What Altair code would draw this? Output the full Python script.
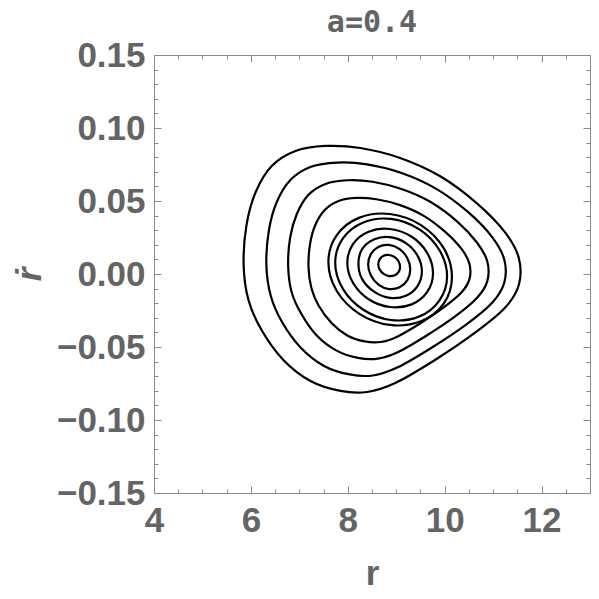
import altair as alt
import pandas as pd

# ---- data: closed invariant curves (r, r-dot) ----
C1_r = [5.85, 5.91, 6.10, 6.43, 6.92, 7.54, 8.26, 9.08, 9.90, 10.66, 11.24, 11.53,
        11.53, 11.24, 10.62, 9.80, 8.98, 8.40, 7.85, 7.23, 6.67, 6.22, 5.95]
C1_rd = [0.0062, 0.0336, 0.0562, 0.0740, 0.0843, 0.0877, 0.0863, 0.0795, 0.0671, 0.0486, 0.0288, 0.0110,
         -0.0075, -0.0233, -0.0404, -0.0589, -0.0747, -0.0808, -0.0801, -0.0733, -0.0589, -0.0384, -0.0178]

C2_r = [6.32, 6.37, 6.53, 6.82, 7.24, 7.78, 8.40, 9.11, 9.82, 10.48, 10.98, 11.23,
        11.23, 10.98, 10.45, 9.73, 9.02, 8.52, 8.04, 7.51, 7.03, 6.64, 6.41]
C2_rd = [0.0058, 0.0295, 0.0490, 0.0645, 0.0734, 0.0763, 0.0751, 0.0692, 0.0585, 0.0425, 0.0253, 0.0099,
         -0.0060, -0.0197, -0.0345, -0.0505, -0.0641, -0.0695, -0.0688, -0.0630, -0.0505, -0.0327, -0.0149]

C3_r = [6.77, 6.81, 6.95, 7.19, 7.54, 7.99, 8.51, 9.11, 9.71, 10.26, 10.67, 10.88,
        10.88, 10.67, 10.23, 9.63, 9.03, 8.62, 8.21, 7.77, 7.36, 7.04, 6.84]
C3_rd = [0.0051, 0.0249, 0.0413, 0.0543, 0.0617, 0.0642, 0.0632, 0.0582, 0.0493, 0.0359, 0.0214, 0.0086,
         -0.0049, -0.0163, -0.0287, -0.0421, -0.0536, -0.0580, -0.0575, -0.0525, -0.0421, -0.0272, -0.0123]

C4_r = [7.19, 7.22, 7.33, 7.53, 7.81, 8.17, 8.59, 9.08, 9.56, 10.00, 10.34, 10.51,
        10.51, 10.34, 9.98, 9.50, 9.02, 8.68, 8.35, 7.99, 7.67, 7.40, 7.25]
C4_rd = [0.0043, 0.0203, 0.0336, 0.0440, 0.0500, 0.0521, 0.0512, 0.0472, 0.0400, 0.0292, 0.0175, 0.0071,
         -0.0037, -0.0129, -0.0229, -0.0337, -0.0429, -0.0466, -0.0462, -0.0421, -0.0337, -0.0217, -0.0097]

C5_r = [10.15, 9.98, 9.51, 8.87, 8.24, 7.77, 7.60, 7.77, 8.24, 8.87, 9.51, 9.98]
C5_rd = [-0.0020, 0.0177, 0.0335, 0.0411, 0.0386, 0.0265, 0.0082, -0.0115, -0.0273, -0.0349, -0.0324, -0.0203]

C6_r = [10.05, 9.89, 9.47, 8.89, 8.32, 7.90, 7.74, 7.90, 8.32, 8.89, 9.47, 9.89]
C6_rd = [-0.0015, 0.0164, 0.0307, 0.0377, 0.0353, 0.0244, 0.0077, -0.0102, -0.0245, -0.0315, -0.0292, -0.0182]

C7_r = [9.76, 9.64, 9.32, 8.87, 8.43, 8.11, 7.99, 8.11, 8.43, 8.87, 9.32, 9.64]
C7_rd = [0.0005, 0.0144, 0.0255, 0.0308, 0.0290, 0.0206, 0.0077, -0.0062, -0.0173, -0.0226, -0.0208, -0.0123]

C8_r = [9.53, 9.44, 9.20, 8.87, 8.55, 8.30, 8.22, 8.30, 8.55, 8.87, 9.20, 9.44]
C8_rd = [0.0018, 0.0126, 0.0212, 0.0253, 0.0238, 0.0172, 0.0071, -0.0037, -0.0123, -0.0164, -0.0149, -0.0083]

C9_r = [9.29, 9.23, 9.07, 8.85, 8.64, 8.48, 8.42, 8.48, 8.64, 8.85, 9.07, 9.23]
C9_rd = [0.0031, 0.0108, 0.0170, 0.0199, 0.0187, 0.0138, 0.0065, -0.0012, -0.0074, -0.0103, -0.0091, -0.0042]

C10_r = [9.08, 9.05, 8.97, 8.85, 8.74, 8.66, 8.63, 8.66, 8.74, 8.85, 8.97, 9.05]
C10_rd = [0.0049, 0.0086, 0.0116, 0.0130, 0.0125, 0.0102, 0.0067, 0.0030, 0.0001, -0.0014, -0.0009, 0.0014]

X_MAJOR = [4, 6, 8, 10, 12]
X_MINOR = [4.5, 5, 5.5, 6.5, 7, 7.5, 8.5, 9, 9.5, 10.5, 11, 11.5, 12.5]
Y_MAJOR = [-0.15, -0.10, -0.05, 0.0, 0.05, 0.10, 0.15]
Y_MINOR = [-0.14, -0.13, -0.12, -0.11, -0.09, -0.08, -0.07, -0.06, -0.04, -0.03, -0.02, -0.01,
           0.01, 0.02, 0.03, 0.04, 0.06, 0.07, 0.08, 0.09, 0.11, 0.12, 0.13, 0.14]

TITLE = "a=0.4"
X_TITLE = "r"
Y_TITLE = "ṙ"

curves = [C1_r, C2_r, C3_r, C4_r, C5_r, C6_r, C7_r, C8_r, C9_r, C10_r]
curves_rd = [C1_rd, C2_rd, C3_rd, C4_rd, C5_rd, C6_rd, C7_rd, C8_rd, C9_rd, C10_rd]
rows = []
for ci, (rs, rds) in enumerate(zip(curves, curves_rd)):
    for i, (a, b) in enumerate(zip(rs, rds)):
        rows.append({"curve": ci, "idx": i, "r": a, "rd": b})
df = pd.DataFrame(rows)

GRAY = "#646464"
TICK = "#8a8a8a"
FONT = "Liberation Sans"
FS = 35

xs = alt.Scale(domain=[4, 13], nice=False, zero=False)
ys = alt.Scale(domain=[-0.15, 0.15], nice=False, zero=False)


def ax(orient, values, size, labels=False, title="", fmt=None, **kw):
    d = dict(orient=orient, values=values, tickSize=size, offset=-size, domain=False,
             grid=False, labels=labels, title=title, tickColor=TICK, tickWidth=1)
    if labels:
        d.update(labelFont=FONT, labelFontSize=FS, labelFontWeight="bold", labelColor=GRAY,
                 labelFlush=False, labelOverlap=False, format=fmt)
    d.update(kw)
    return alt.Axis(**d)


lines = alt.Chart(df).mark_line(color="black", strokeWidth=2.2, interpolate="cardinal-closed").encode(
    x=alt.X("r:Q", scale=xs, axis=ax("bottom", X_MAJOR, 7, True, X_TITLE, "d",
                                        labelPadding=10, titleFont=FONT, titleFontSize=FS,
                                        titleFontWeight="bold", titleColor=GRAY, titlePadding=18)),
    y=alt.Y("rd:Q", scale=ys, axis=ax("left", Y_MAJOR, 7, True, Y_TITLE, ".2f",
                                         labelPadding=9, titleFont=FONT, titleFontSize=FS,
                                         titleFontWeight="bold", titleFontStyle="italic",
                                         titleColor=GRAY, titlePadding=9)),
    detail="curve:N",
    order="idx:Q",
)

layer2 = alt.Chart(df).mark_point(opacity=0).encode(
    x=alt.X("r:Q", scale=xs, axis=ax("bottom", X_MINOR, 4)),
    y=alt.Y("rd:Q", scale=ys, axis=ax("left", Y_MINOR, 4)),
)
layer3 = alt.Chart(df).mark_point(opacity=0).encode(
    x=alt.X("r:Q", scale=xs, axis=ax("top", X_MAJOR, 7)),
    y=alt.Y("rd:Q", scale=ys, axis=ax("right", Y_MAJOR, 7)),
)
layer4 = alt.Chart(df).mark_point(opacity=0).encode(
    x=alt.X("r:Q", scale=xs, axis=ax("top", X_MINOR, 4)),
    y=alt.Y("rd:Q", scale=ys, axis=ax("right", Y_MINOR, 4)),
)

chart = alt.layer(lines, layer2, layer3, layer4).resolve_axis(
    x="independent", y="independent"
).properties(
    width=436,
    height=438,
    autosize=alt.AutoSizeParams(type="none"),
    padding={"left": 146, "top": 47, "right": 1, "bottom": 98},
    title=alt.TitleParams(TITLE, font="DejaVu Sans Mono", fontSize=30, fontWeight="bold",
                          color=GRAY, anchor="middle", offset=0),
).configure_view(stroke=TICK, strokeWidth=1)

chart.save("out.html", embed_options={"renderer": "svg", "actions": False})
